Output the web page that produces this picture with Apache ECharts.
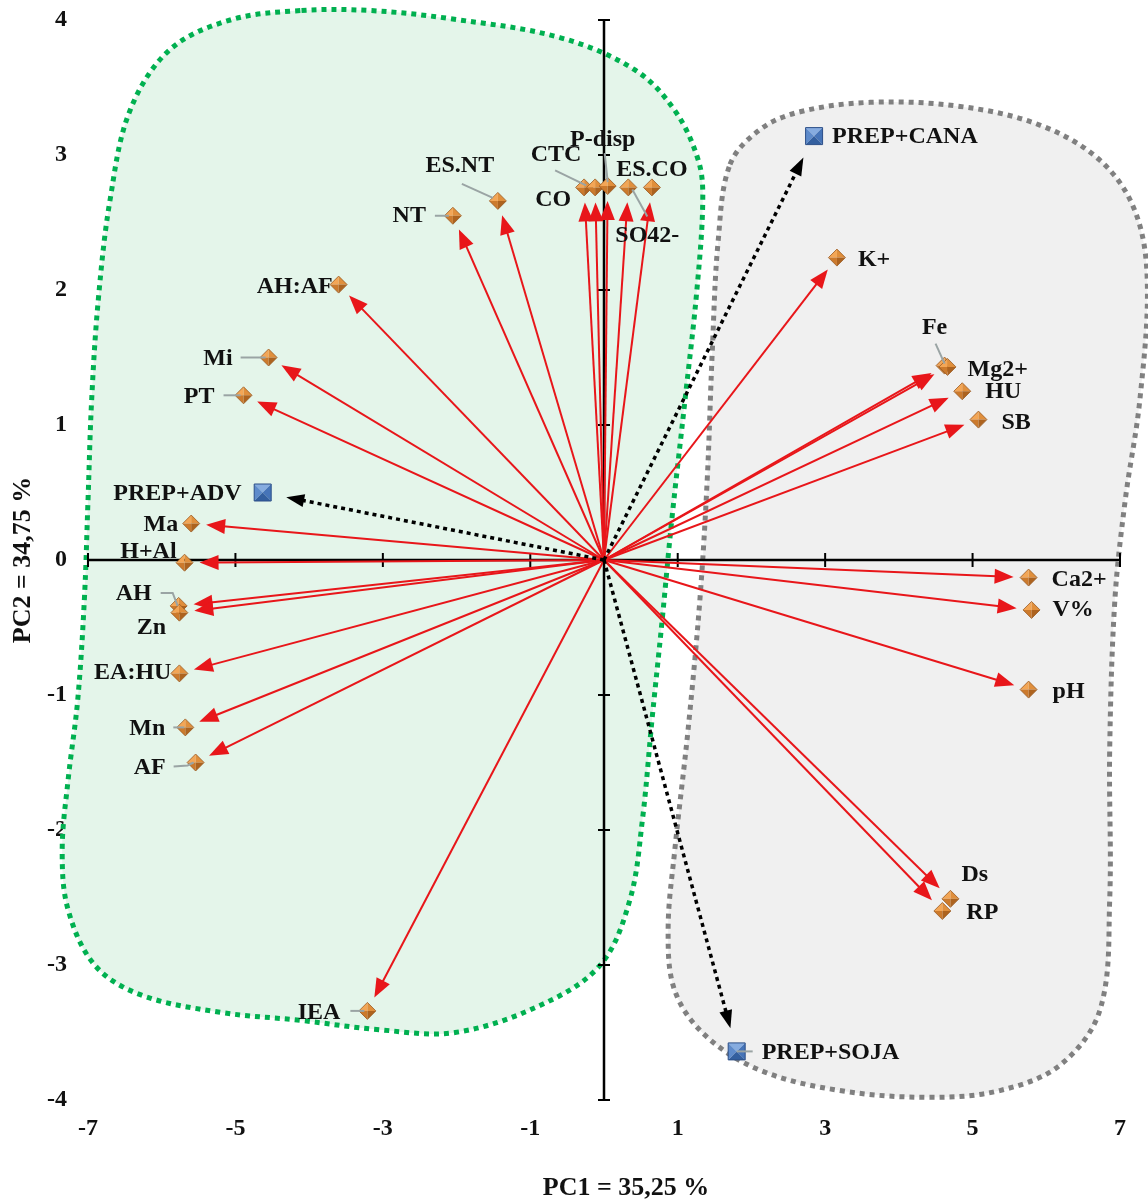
<!DOCTYPE html>
<html><head><meta charset="utf-8">
<script src="https://cdn.jsdelivr.net/npm/echarts@6/dist/echarts.min.js"></script>
<style>html,body{margin:0;padding:0;background:#fff}#c{width:1148px;height:1200px}</style>
</head><body><div id="c"></div>
<script>
// ---------- DATA ----------
const variableNames = ['ES.NT','NT','CTC','CO','P-disp','SO42-','ES.CO','AH:AF','Mi','PT','Ma','H+Al','AH','Zn','EA:HU','Mn','AF','IEA','K+','Fe','Mg2+','HU','SB','Ca2+','V%','pH','Ds','RP'];
const variableX = [-1.44,-2.05,-0.27,-0.12,0.05,0.33,0.65,-3.60,-4.55,-4.89,-5.60,-5.69,-5.77,-5.76,-5.76,-5.68,-5.54,-3.21,3.16,4.62,4.66,4.86,5.08,5.76,5.80,5.76,4.70,4.59];
const variableY = [2.66,2.55,2.76,2.76,2.77,2.76,2.76,2.04,1.50,1.22,0.27,-0.02,-0.34,-0.39,-0.84,-1.24,-1.50,-3.34,2.24,1.44,1.43,1.25,1.04,-0.13,-0.37,-0.96,-2.51,-2.60];
const treatmentNames = ['PREP+CANA','PREP+ADV','PREP+SOJA'];
const treatmentX = [2.85,-4.63,1.80];
const treatmentY = [3.14,0.50,-3.64];
const xTickValues = [-7,-5,-3,-1,1,3,5,7];
const yTickValues = [-4,-3,-2,-1,0,1,2,3,4];
const xAxisTitle = 'PC1 = 35,25 %';
const yAxisTitle = 'PC2 = 34,75 %';
// group outlines (hand-drawn groupings), in axis units
const groupLeftOutline = [[-4.12,4.07],[-5.07,4.00],[-5.89,3.78],[-6.43,3.33],[-6.70,2.67],[-6.86,1.93],[-6.95,1.19],[-7.00,0.44],[-7.05,-0.30],[-7.14,-1.04],[-7.27,-1.63],[-7.35,-2.15],[-7.27,-2.59],[-6.91,-3.00],[-6.29,-3.22],[-5.21,-3.35],[-4.12,-3.41],[-3.04,-3.48],[-2.02,-3.50],[-0.87,-3.30],[-0.05,-3.00],[0.35,-2.52],[0.52,-1.93],[0.65,-1.19],[0.79,-0.44],[0.92,0.30],[1.10,1.19],[1.26,2.00],[1.34,2.67],[1.28,2.96],[0.96,3.33],[0.42,3.63],[-0.60,3.87],[-2.09,4.01],[-3.17,4.07]];
const groupRightOutline = [[1.71,2.93],[2.12,3.19],[2.66,3.32],[3.61,3.39],[4.83,3.36],[5.92,3.22],[6.73,2.96],[7.20,2.59],[7.37,2.07],[7.27,1.19],[7.07,0.44],[6.93,-0.30],[6.86,-1.41],[6.86,-2.52],[6.73,-3.33],[6.19,-3.74],[5.37,-3.93],[4.42,-3.98],[3.20,-3.93],[2.12,-3.78],[1.37,-3.52],[0.96,-3.19],[0.87,-2.74],[0.96,-2.15],[1.14,-1.26],[1.30,-0.30],[1.40,0.59],[1.47,1.56],[1.55,2.37]];

// ---------- LABEL LAYOUT (pixel offsets, style only) ----------
const labelLayout = {
  'ES.NT':{dx:-38,dy:-35,align:'center',leader:[[-36,-17],[-5,-3]]},
  'NT':{dx:-27,dy:0,align:'right',leader:[[-18,0],[-4,0]]},
  'CTC':{dx:-28,dy:-33,align:'center',leader:[[-29,-17],[2,-2]]},
  'CO':{dx:-42,dy:12,align:'center'},
  'P-disp':{dx:-5,dy:-46,align:'center',leader:[[-3,-33],[0,-4]]},
  'SO42-':{dx:19,dy:48,align:'center',leader:[[4,2],[19,29]]},
  'ES.CO':{dx:0,dy:-18,align:'center'},
  'AH:AF':{dx:-6,dy:2,align:'right'},
  'Mi':{dx:-36,dy:1,align:'right',leader:[[-28,0],[-3,0]]},
  'PT':{dx:-29,dy:1,align:'right',leader:[[-20,0],[-3,0]]},
  'Ma':{dx:-13,dy:1,align:'right'},
  'H+Al':{dx:-8,dy:-11,align:'right'},
  'AH':{dx:-27,dy:-12,align:'right',leader:[[-18,-13],[-6,-13],[-1,0]]},
  'Zn':{dx:-28,dy:15,align:'center'},
  'EA:HU':{dx:-8,dy:-1,align:'right'},
  'Mn':{dx:-20,dy:1,align:'right',leader:[[-12,0],[-1,0]]},
  'AF':{dx:-30,dy:5,align:'right',leader:[[-22,4],[-8,3],[-2,0]]},
  'IEA':{dx:-27,dy:2,align:'right',leader:[[-17,0],[-3,0]]},
  'K+':{dx:21,dy:2,align:'left'},
  'Fe':{dx:-10,dy:-38,align:'center',leader:[[-9,-22],[0,-2]]},
  'Mg2+':{dx:20,dy:3,align:'left'},
  'HU':{dx:23,dy:1,align:'left'},
  'SB':{dx:23,dy:3,align:'left'},
  'Ca2+':{dx:23,dy:2,align:'left'},
  'V%':{dx:21,dy:0,align:'left'},
  'pH':{dx:24,dy:2,align:'left'},
  'Ds':{dx:11,dy:-24,align:'left'},
  'RP':{dx:24,dy:2,align:'left'},
  'PREP+CANA':{dx:18,dy:1,align:'left'},
  'PREP+ADV':{dx:-21,dy:1,align:'right'},
  'PREP+SOJA':{dx:25,dy:1,align:'left',leader:[[0,0],[16,0]]}
};

const FONT = 'bold 24px "Liberation Serif", "Times New Roman", serif';
const TEXT_COLOR = '#111';

function arrowGroup(api, x, y, pull, color, width, dash, headLen, headW) {
  const o = api.coord([0, 0]);
  const p = api.coord([x, y]);
  const dx = p[0] - o[0], dy = p[1] - o[1];
  const L = Math.hypot(dx, dy);
  const ux = dx / L, uy = dy / L;
  const tip = [p[0] - ux * pull, p[1] - uy * pull];
  const base = [tip[0] - ux * headLen, tip[1] - uy * headLen];
  const nx = -uy, ny = ux;
  const lineEnd = [base[0] + ux * 2, base[1] + uy * 2];
  return {
    type: 'group',
    children: [
      {type: 'line', shape: {x1: o[0], y1: o[1], x2: lineEnd[0], y2: lineEnd[1]},
       style: {stroke: color, lineWidth: width, lineDash: dash || null}},
      {type: 'polygon', shape: {points: [tip, [base[0] + nx * headW / 2, base[1] + ny * headW / 2], [base[0] - nx * headW / 2, base[1] - ny * headW / 2]]},
       style: {fill: color}}
    ]
  };
}

function labelChildren(name, c) {
  const lay = labelLayout[name] || {dx: 12, dy: 0, align: 'left'};
  const ch = [];
  if (lay.leader) {
    ch.push({type: 'polyline', z2: 5, shape: {points: lay.leader.map(q => [c[0] + q[0], c[1] + q[1]])},
      style: {stroke: '#9aa4a4', lineWidth: 2, fill: null}});
  }
  ch.push({type: 'text', z2: 6, x: c[0] + lay.dx, y: c[1] + lay.dy,
    style: {text: name, font: FONT, fill: TEXT_COLOR, align: lay.align, verticalAlign: 'middle'}});
  return ch;
}

function diamond(c, h) {
  const t = [c[0], c[1] - h], r = [c[0] + h, c[1]], b = [c[0], c[1] + h], l = [c[0] - h, c[1]];
  return [
    {type: 'polygon', shape: {points: [t, c, l]}, style: {fill: '#f3a656'}},
    {type: 'polygon', shape: {points: [t, r, c]}, style: {fill: '#e08f3c'}},
    {type: 'polygon', shape: {points: [l, c, b]}, style: {fill: '#cc7a2c'}},
    {type: 'polygon', shape: {points: [c, r, b]}, style: {fill: '#ad631f'}},
    {type: 'polygon', shape: {points: [t, r, b, l]}, style: {fill: null, stroke: '#9a5a22', lineWidth: 0.8}}
  ];
}

function square(c, h) {
  const tl = [c[0] - h, c[1] - h], tr = [c[0] + h, c[1] - h], br = [c[0] + h, c[1] + h], bl = [c[0] - h, c[1] + h];
  return [
    {type: 'polygon', shape: {points: [tl, tr, c]}, style: {fill: '#86ace0'}},
    {type: 'polygon', shape: {points: [tl, c, bl]}, style: {fill: '#5e8bcb'}},
    {type: 'polygon', shape: {points: [tr, br, c]}, style: {fill: '#4674b8'}},
    {type: 'polygon', shape: {points: [bl, c, br]}, style: {fill: '#335f9f'}},
    {type: 'polygon', shape: {points: [tl, tr, br, bl]}, style: {fill: null, stroke: '#2c4f88', lineWidth: 1}}
  ];
}

const varData = variableNames.map((n, i) => [variableX[i], variableY[i], i]);
const trtData = treatmentNames.map((n, i) => [treatmentX[i], treatmentY[i], i]);

const chart = echarts.init(document.getElementById('c'), null, {renderer: 'canvas'});
const option = {
  animation: false,
  backgroundColor: '#ffffff',
  grid: {left: 88, right: 28, top: 20, bottom: 100, outerBoundsMode: 'none', containLabel: false},
  xAxis: {
    type: 'value', min: -7, max: 7, position: 'bottom',
    axisLine: {show: false, onZero: false}, axisTick: {show: false}, splitLine: {show: false},
    axisLabel: {customValues: xTickValues, margin: 17, color: TEXT_COLOR, fontWeight: 'bold', fontSize: 24, fontFamily: 'Liberation Serif'},
    name: xAxisTitle, nameLocation: 'middle', nameGap: 75,
    nameTextStyle: {fontFamily: 'Liberation Serif', fontWeight: 'bold', fontSize: 26, color: TEXT_COLOR, padding: [0, 0, 0, 44]}
  },
  yAxis: {
    type: 'value', min: -4, max: 4, interval: 1, position: 'left',
    axisLine: {show: false, onZero: false}, axisTick: {show: false}, splitLine: {show: false},
    axisLabel: {margin: 21, color: TEXT_COLOR, fontWeight: 'bold', fontSize: 24, fontFamily: 'Liberation Serif'},
    name: yAxisTitle, nameLocation: 'middle', nameGap: 52, nameRotate: 90,
    nameTextStyle: {fontFamily: 'Liberation Serif', fontWeight: 'bold', fontSize: 26, color: TEXT_COLOR}
  },
  series: [
    { // group outlines
      type: 'custom', z: 1, silent: true, clip: false,
      data: [[0, 0], [0, 0]],
      renderItem(params, api) {
        const left = params.dataIndex === 0;
        const pts = (left ? groupLeftOutline : groupRightOutline).map(p => api.coord(p));
        return {type: 'polygon', shape: {points: pts, smooth: 0.35},
          style: {fill: left ? '#e4f5ea' : '#f0f0f0', stroke: left ? '#00b050' : '#808080', lineWidth: 5, lineDash: [5, 5]}};
      }
    },
    { // axis lines through origin with crossing ticks
      type: 'custom', z: 2, silent: true, clip: false,
      data: [[0, 0]],
      renderItem(params, api) {
        const ch = [];
        const xa = api.coord([xTickValues[0], 0]), xb = api.coord([xTickValues[xTickValues.length - 1], 0]);
        const ya = api.coord([0, yTickValues[0]]), yb = api.coord([0, yTickValues[yTickValues.length - 1]]);
        ch.push({type: 'line', shape: {x1: xa[0], y1: xa[1], x2: xb[0], y2: xb[1]}, style: {stroke: '#000', lineWidth: 2.5}});
        ch.push({type: 'line', shape: {x1: ya[0], y1: ya[1], x2: yb[0], y2: yb[1]}, style: {stroke: '#000', lineWidth: 2.5}});
        xTickValues.forEach(v => { const p = api.coord([v, 0]);
          ch.push({type: 'line', shape: {x1: p[0], y1: p[1] - 7, x2: p[0], y2: p[1] + 7}, style: {stroke: '#000', lineWidth: 2}}); });
        yTickValues.forEach(v => { if (v === 0) return; const p = api.coord([0, v]);
          ch.push({type: 'line', shape: {x1: p[0] - 6, y1: p[1], x2: p[0] + 6, y2: p[1]}, style: {stroke: '#000', lineWidth: 2}}); });
        return {type: 'group', children: ch};
      }
    },
    { // red loading arrows
      type: 'custom', z: 3, silent: true, clip: false,
      data: varData,
      renderItem(params, api) {
        return arrowGroup(api, api.value(0), api.value(1), 15, '#e8161a', 2, null, 19, 15);
      }
    },
    { // dotted treatment arrows
      type: 'custom', z: 3, silent: true, clip: false,
      data: trtData,
      renderItem(params, api) {
        return arrowGroup(api, api.value(0), api.value(1), 24, '#000000', 3.5, [4, 4], 18, 13);
      }
    },
    { // variable markers + labels
      type: 'custom', z: 4, silent: true, clip: false,
      data: varData,
      renderItem(params, api) {
        const c = api.coord([api.value(0), api.value(1)]);
        const name = variableNames[api.value(2)];
        return {type: 'group', children: diamond(c, 8.5).concat(labelChildren(name, c))};
      }
    },
    { // treatment markers + labels
      type: 'custom', z: 4, silent: true, clip: false,
      data: trtData,
      renderItem(params, api) {
        const c = api.coord([api.value(0), api.value(1)]);
        const name = treatmentNames[api.value(2)];
        return {type: 'group', children: square(c, 8.5).concat(labelChildren(name, c))};
      }
    }
  ]
};
chart.setOption(option);
</script>
</body></html>
